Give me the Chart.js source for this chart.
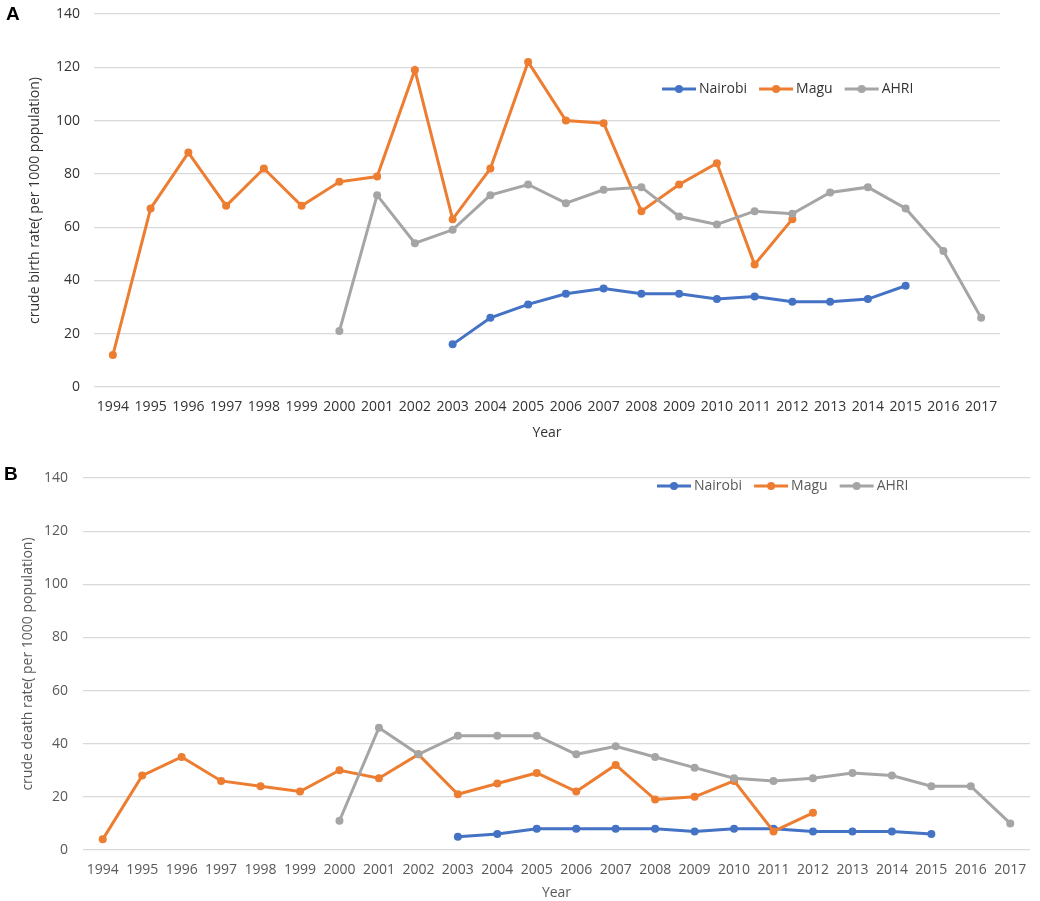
<!DOCTYPE html>
<html>
<head>
<meta charset="utf-8">
<script src="https://cdn.jsdelivr.net/npm/chart.js@4"></script>
<style>
  html, body { margin: 0; padding: 0; background: #fff; }
  body { width: 1040px; height: 901px; position: relative; overflow: hidden; font-family: "Liberation Sans", Arial, sans-serif; }
  .wrap { position: absolute; left: 0; width: 1040px; }
  #wrapA { top: 0; height: 445px; }
  #wrapB { top: 440px; height: 461px; }
  .panel { position: absolute; font-weight: bold; font-size: 19px; color: #000; }
</style>
</head>
<body>
<div class="wrap" id="wrapA"><canvas id="chartA" width="1040" height="445"></canvas></div>
<div class="wrap" id="wrapB"><canvas id="chartB" width="1040" height="461"></canvas></div>
<div class="panel" style="left:6px; top:3px;">A</div>
<div class="panel" style="left:4px; top:463px;">B</div>
<script>
const years = ['1994','1995','1996','1997','1998','1999','2000','2001','2002','2003','2004','2005','2006','2007','2008','2009','2010','2011','2012','2013','2014','2015','2016','2017'];
const seriesNames = ['Nairobi', 'Magu', 'AHRI'];

const birthNairobi = [null,null,null,null,null,null,null,null,null,16,26,31,35,37,35,35,33,34,32,32,33,38,null,null];
const birthMagu    = [12,67,88,68,82,68,77,79,119,63,82,122,100,99,66,76,84,46,63,null,null,null,null,null];
const birthAhri    = [null,null,null,null,null,null,21,72,54,59,72,76,69,74,75,64,61,66,65,73,75,67,51,26];

const deathNairobi = [null,null,null,null,null,null,null,null,null,5,6,8,8,8,8,7,8,8,7,7,7,6,null,null];
const deathMagu    = [4,28,35,26,24,22,30,27,36,21,25,29,22,32,19,20,26,7,14,null,null,null,null,null];
const deathAhri    = [null,null,null,null,null,null,11,46,36,43,43,43,36,39,35,31,27,26,27,29,28,24,24,10];

const yMin = 0, yMax = 140, yStep = 20;

const COLORS = ['#4472C4', '#ED7D31', '#A5A5A5'];
const FONT = '"Open Sans", "Liberation Sans", sans-serif';

const inlineLegend = {
  id: 'inlineLegend',
  afterDraw(chart, args, opts) {
    const ctx = chart.ctx;
    ctx.save();
    ctx.font = '14px ' + FONT;
    ctx.textBaseline = 'middle';
    let x = opts.x;
    const y = opts.y;
    chart.data.datasets.forEach((ds) => {
      ctx.strokeStyle = ds.borderColor;
      ctx.lineWidth = 3;
      ctx.beginPath();
      ctx.moveTo(x, y);
      ctx.lineTo(x + 34, y);
      ctx.stroke();
      ctx.fillStyle = ds.borderColor;
      ctx.beginPath();
      ctx.arc(x + 17, y, 4, 0, Math.PI * 2);
      ctx.fill();
      ctx.fillStyle = opts.color;
      ctx.fillText(ds.label, x + 37, y);
      x += 37 + ctx.measureText(ds.label).width + 12;
    });
    ctx.restore();
  }
};

function makeChart(id, dataSets, yTitle, cfg) {
  const datasets = dataSets.map((d, i) => ({
    label: seriesNames[i],
    data: d,
    borderColor: COLORS[i],
    backgroundColor: COLORS[i],
    borderWidth: 3,
    pointRadius: 4,
    pointBorderWidth: 0,
    pointBackgroundColor: COLORS[i],
    tension: 0,
    order: 2 - i
  }));
  const TEXT = cfg.text;
  return new Chart(document.getElementById(id), {
    type: 'line',
    data: { labels: years, datasets },
    plugins: [inlineLegend],
    options: {
      responsive: false,
      animation: false,
      layout: { padding: { left: 0, right: cfg.padRight, top: cfg.padTop, bottom: 0 } },
      plugins: {
        legend: { display: false },
        tooltip: { enabled: false },
        inlineLegend: { x: cfg.legX, y: cfg.legY, color: TEXT }
      },
      scales: {
        x: {
          offset: true,
          grid: { display: false, drawTicks: false },
          border: { display: false },
          ticks: { color: TEXT, font: { family: FONT, size: 14 }, padding: 12, maxRotation: 0, autoSkip: false },
          title: { display: true, text: 'Year', color: TEXT, font: { family: FONT, size: 14 }, padding: { top: 0, bottom: cfg.xTitlePad } },
          afterFit(scale) { scale.height = cfg.xHeight; scale.paddingLeft = 0; scale.paddingRight = 0; }
        },
        y: {
          min: yMin, max: yMax,
          ticks: { stepSize: yStep, color: TEXT, font: { family: FONT, size: 14 }, padding: cfg.yTickPad },
          grid: { color: '#D9D9D9', lineWidth: 1.2, drawTicks: false },
          border: { display: false },
          title: { display: true, text: yTitle, color: TEXT, font: { family: FONT, size: 14 }, padding: { top: cfg.yTitlePad, bottom: 0 } },
          afterFit(scale) { scale.width = cfg.yWidth; scale.paddingTop = 0; scale.paddingBottom = 0; }
        }
      }
    }
  });
}

makeChart('chartA', [birthNairobi, birthMagu, birthAhri], 'crude birth rate( per 1000 population)', {
  padRight: 40, padTop: 14, xHeight: 58, xTitlePad: 4, yWidth: 94, yTickPad: 14, yTitlePad: 27, legX: 662, legY: 89, text: '#333333'
});
makeChart('chartB', [deathNairobi, deathMagu, deathAhri], 'crude death rate( per 1000 population)', {
  padRight: 10, padTop: 38, xHeight: 51, xTitlePad: 0, yWidth: 83, yTickPad: 15, yTitlePad: 20, legX: 657, legY: 46, text: '#595959'
});
</script>
</body>
</html>
